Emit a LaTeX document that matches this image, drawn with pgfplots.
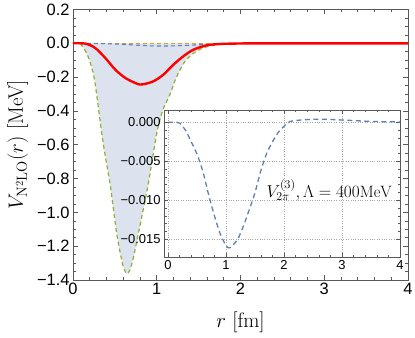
\documentclass[border=0pt]{standalone}
\usepackage{fontspec}
\usepackage{pgfplots}
\pgfplotsset{compat=1.18}
\newfontfamily\ticksf{Liberation Sans}

\definecolor{mblue}{rgb}{0.368417,0.506779,0.709798}
\definecolor{morange}{rgb}{0.880722,0.611041,0.142051}
\definecolor{mgreen}{rgb}{0.560181,0.691569,0.194885}
\definecolor{shade}{RGB}{220,227,238}
\definecolor{framec}{gray}{0.35}

% lower edge of the band
\pgfplotstableread{
r v
0 0
0.06 0
0.10 -0.01
0.143 -0.04
0.19 -0.09
0.242 -0.178
0.27 -0.26
0.302 -0.376
0.343 -0.533
0.39 -0.68
0.442 -0.83
0.48 -0.97
0.522 -1.126
0.56 -1.23
0.60 -1.32
0.641 -1.363
0.68 -1.34
0.72 -1.27
0.78 -1.126
0.84 -0.98
0.899 -0.83
0.95 -0.68
0.999 -0.533
1.04 -0.45
1.08 -0.385
1.16 -0.30
1.22 -0.217
1.28 -0.155
1.34 -0.105
1.41 -0.07
1.48 -0.045
1.56 -0.026
1.64 -0.015
1.72 -0.008
1.8 -0.005
1.9 -0.002
2.0 -0.001
2.2 0
3.0 0
4 0
}\greentab

% full N2LO
\pgfplotstableread{
r v
0 0
0.15 -0.002
0.266 -0.028
0.386 -0.087
0.505 -0.156
0.625 -0.205
0.744 -0.235
0.80 -0.244
0.844 -0.242
0.959 -0.225
1.078 -0.186
1.198 -0.127
1.317 -0.077
1.437 -0.038
1.596 -0.012
1.755 -0.004
2.0 -0.001
2.3 0
3.0 0
4 0
}\redtab

% V2pi(3), Lambda = 400 MeV
\pgfplotstableread{
r v
0 0
0.1 0
0.2 -0.0001
0.3 -0.0010
0.4 -0.0025
0.5 -0.0041
0.6 -0.0063
0.7 -0.0093
0.8 -0.0120
0.9 -0.0143
1.0 -0.0158
1.05 -0.0161
1.1 -0.0159
1.2 -0.0150
1.3 -0.0133
1.4 -0.0112
1.5 -0.0090
1.6 -0.0062
1.7 -0.0040
1.8 -0.0025
1.9 -0.0013
2.0 -0.0005
2.1 0.0001
2.3 0.0003
2.6 0.0004
3.0 0.0003
3.5 0.00012
4.0 0.00005
}\bluetab

\begin{document}
\begin{tikzpicture}
\path[use as bounding box] (-73bp,-58bp) rectangle (342bp,280bp);
\begin{axis}[
    scale only axis,
    width=335bp, height=270.5bp,
    xmin=0, xmax=4, ymin=-1.4, ymax=0.2,
    xtick={0,1,2,3,4}, xticklabels={0,1,2,3,4},
    ytick={0.2,0,-0.2,-0.4,-0.6,-0.8,-1.0,-1.2,-1.4},
    yticklabels={0.2,0.0,−0.2,−0.4,−0.6,−0.8,−1.0,−1.2,−1.4},
    minor x tick num=4, minor y tick num=3,
    tick align=inside,
    major tick length=5bp, minor tick length=3bp,
    axis line style={framec, line width=0.8bp},
    tick style={framec, line width=0.6bp},
    tick label style={font=\ticksf\fontsize{16.5}{18}\selectfont},
    xlabel={$r$ [fm]},
    ylabel={$V_{\mathrm{N^2LO}}(r)$ [MeV]},
    label style={font=\fontsize{21}{24}\selectfont},
    x label style={at={(axis description cs:0.5,-0.155)}, anchor=center},
    y label style={at={(axis description cs:-0.165,0.5)}, anchor=center},
]
\addplot[fill=shade, draw=none, smooth, tension=0.5] table[x=r,y=v] {\greentab} \closedcycle;
\addplot[morange, line width=1.1bp, dash pattern=on 4bp off 3bp] coordinates {(0,0) (4,0)};
\addplot[mblue, line width=1.1bp, dash pattern=on 4bp off 3bp, smooth] table[x=r,y=v] {\bluetab};
\addplot[mgreen, line width=1.2bp, dash pattern=on 4bp off 3bp, smooth, tension=0.5] table[x=r,y=v] {\greentab};
\addplot[red, line width=2.4bp, smooth] table[x=r,y=v] {\redtab};
\end{axis}

\begin{axis}[
    at={(91bp,23bp)}, anchor=south west,
    scale only axis,
    width=236bp, height=147bp,
    xmin=-0.07, xmax=4, ymin=-0.01727, ymax=0.00158,
    axis background/.style={fill=white},
    scaled y ticks=false,
    xtick={0,1,2,3,4}, xticklabels={0,1,2,3,4},
    ytick={0,-0.005,-0.01,-0.015},
    yticklabels={0.000,−0.005,−0.010,−0.015},
    minor x tick num=4, minor y tick num=4,
    grid=major,
    major grid style={gray!70, dotted, line width=0.6bp},
    tick align=inside,
    major tick length=4bp, minor tick length=2.5bp,
    axis line style={framec, line width=0.8bp},
    tick style={framec, line width=0.6bp},
    tick label style={font=\ticksf\fontsize{13}{15}\selectfont},
]
\addplot[mblue, line width=1.3bp, dash pattern=on 5bp off 3.5bp, smooth] table[x=r,y=v] {\bluetab};
\node[anchor=east, font=\fontsize{16.5}{18}\selectfont] at (axis cs:3.92,-0.0087)
    {$V_{2\pi}^{(3)}, \Lambda = 400\mathrm{MeV}$};
\end{axis}
\end{tikzpicture}
\end{document}
